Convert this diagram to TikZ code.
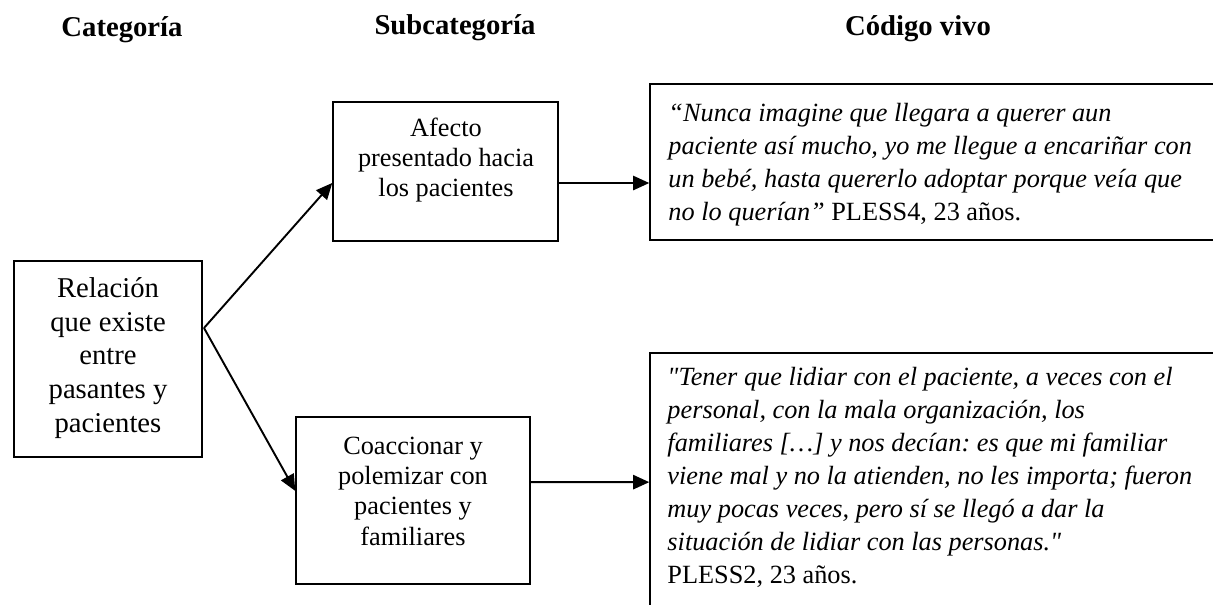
\documentclass[tikz,border=0pt]{standalone}
\usepackage{fontspec}
\setmainfont{Liberation Serif}[Ligatures=TeXOff]
\usetikzlibrary{arrows.meta}
\frenchspacing
\begin{document}
\begin{tikzpicture}[x=0.4184pt,y=-0.4184pt,
  box/.style={draw,line width=0.6pt,rectangle,inner sep=0pt},
  hdr/.style={font=\fontsize{12}{14}\selectfont\bfseries,anchor=base},
  cattext/.style={align=center,inner sep=0pt,font=\fontsize{12}{14.1}\selectfont},
  subtext/.style={align=center,inner sep=0pt,font=\fontsize{11}{12.7}\selectfont},
  quote/.style={align=left,inner sep=0pt,anchor=north west,font=\fontsize{11}{13.8}\selectfont},
  arr/.style={line width=0.8pt,-{Triangle[length=6.8pt,width=6pt]}}]
\useasboundingbox (0,0) rectangle (1213,605);
\clip (0,0) rectangle (1213,605);
\fill[white] (0,0) rectangle (1213,605);
% headers
\node[hdr] (h1) at (122,37) {Categoría};
\node[hdr] (h2) at (455,35) {Subcategoría};
\node[hdr] (h3) at (918,36) {Código vivo};
% boxes
\node[box,minimum width=188*0.4184pt,minimum height=196*0.4184pt] (cat) at (108,359) {};
\node[cattext] (catt) at (108,358) {Relación\\que existe\\entre\\pasantes y\\pacientes};
\node[box,minimum width=225*0.4184pt,minimum height=139*0.4184pt] (sub1) at (445.5,171.5) {};
\node[subtext] (sub1t) at (446,160) {Afecto\\presentado hacia\\los pacientes};
\node[box,minimum width=234*0.4184pt,minimum height=167*0.4184pt] (sub2) at (413,500.5) {};
\node[subtext] (sub2t) at (413,491) {Coaccionar y\\polemizar con\\pacientes y\\familiares};
\node[box,minimum width=590*0.4184pt,minimum height=156*0.4184pt] (code1) at (945,162) {};
\node[quote] (code1t) at (668,98) {\strut\itshape “Nunca imagine que llegara a querer aun\\
\itshape paciente así mucho, yo me llegue a encariñar con\\
\itshape un bebé, hasta quererlo adoptar porque veía que\\
\itshape no lo querían” \upshape PLESS4, 23 años.};
\node[box,minimum width=590*0.4184pt,minimum height=287*0.4184pt] (code2) at (945,496.5) {};
\node[quote] (code2t) at (667,362) {\strut\itshape "Tener que lidiar con el paciente, a veces con el\\
\itshape personal, con la mala organización, los\\
\itshape familiares […] y nos decían: es que mi familiar\\
\itshape viene mal y no la atienden, no les importa; fueron\\
\itshape muy pocas veces, pero sí se llegó a dar la\\
\itshape situación de lidiar con las personas."\\
PLESS2, 23 años.};
% connectors
\coordinate (apex) at (204,328);
\draw[arr] (apex) -- ([yshift=-4.8pt]sub1.west);
\draw[arr] (apex) -- ([yshift=4pt]sub2.west);
\draw[arr] ([yshift=-4.8pt]sub1.east) -- ([yshift=-8.8pt]code1.west);
\draw[arr] ([yshift=7.7pt]sub2.east) -- ([yshift=6pt]code2.west);
\end{tikzpicture}
\end{document}
